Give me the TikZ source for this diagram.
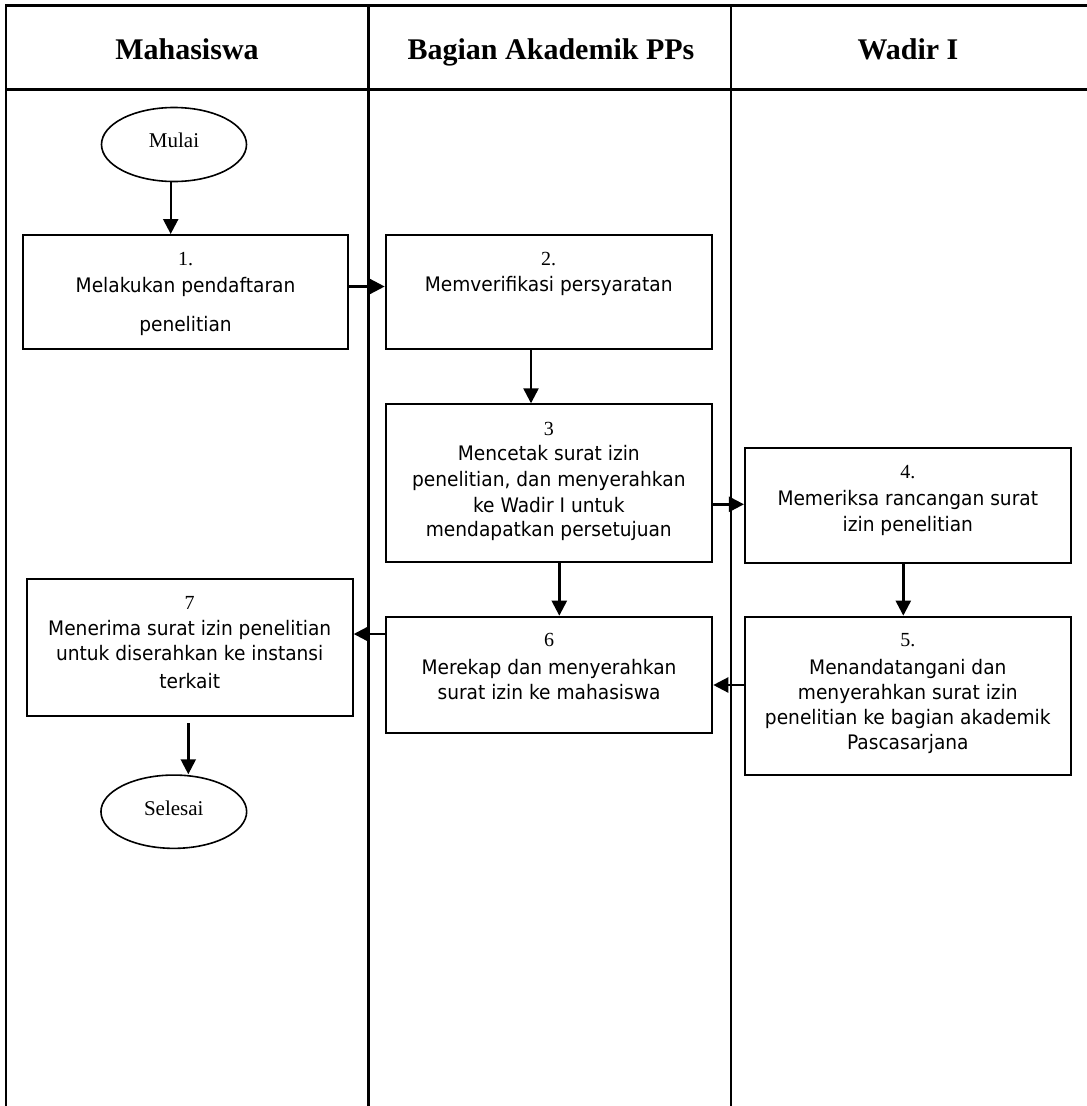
\documentclass[tikz,border=0pt]{standalone}
\usepackage{fontspec}
\setmainfont{Liberation Serif}
\newfontfamily\bodyfont[FakeStretch=0.93]{DejaVu Sans}
\usetikzlibrary{arrows.meta,shapes.geometric}
\begin{document}
\begin{tikzpicture}[x=1pt,y=-1pt,
  lane/.style={line width=2.5pt},
  box/.style={draw,line width=2pt,rectangle,inner sep=0pt},
  term/.style={draw,line width=1.6pt,ellipse,inner sep=0pt},
  flow/.style={line width=2.4pt,-{Triangle[length=15pt,width=15pt]}},
  lbl/.style={anchor=base,inner sep=0pt,font=\bodyfont\fontsize{20}{24}\selectfont},
  num/.style={anchor=base,inner sep=0pt,font=\fontsize{20}{23}\selectfont},
  head/.style={anchor=base,inner sep=0pt,font=\bfseries\fontsize{30}{34}\selectfont}]

\useasboundingbox (0,0) rectangle (1087,1106);

% swimlane frame
\draw[lane] (6,1112) -- (6,5.5) -- (1100,5.5);
\draw[lane] (6,89.5) -- (1100,89.5);
\draw[lane] (368.5,5.5) -- (368.5,1112);
\draw[lane] (731,5.5) -- (731,1112);

% lane headings
\node[head] (h1) at (187,59) {Mahasiswa};
\node[head] (h2) at (551,59) {Bagian Akademik PPs};
\node[head] (h3) at (908,59) {Wadir I};

% terminals
\node[term,minimum width=145pt,minimum height=74pt] (mulai) at (174,144.5) {};
\node[num,font=\fontsize{21}{24}\selectfont] (tm) at (174,147.5) {Mulai};
\node[term,minimum width=145.7pt,minimum height=73.3pt] (selesai) at (173.8,811.7) {};
\node[num,font=\fontsize{21}{24}\selectfont] (ts) at (173.8,815) {Selesai};

% process boxes
\node[box,minimum width=325.6pt,minimum height=114pt] (b1) at (185.5,292) {};
\node[box,minimum width=326pt,minimum height=114pt] (b2) at (548.7,292) {};
\node[box,minimum width=326.3pt,minimum height=158pt] (b3) at (548.8,483.3) {};
\node[box,minimum width=325.7pt,minimum height=114.4pt] (b4) at (907.8,505.5) {};
\node[box,minimum width=325.7pt,minimum height=158.3pt] (b5) at (907.8,695.8) {};
\node[box,minimum width=326.6pt,minimum height=116.6pt] (b6) at (549,675) {};
\node[box,minimum width=326pt,minimum height=136.7pt] (b7) at (189.7,647.3) {};

% box texts
\node[num] (n1) at (185.5,265) {1.};
\node[lbl] (t1a) at (185.5,292.7) {Melakukan pendaftaran};
\node[lbl] (t1b) at (185.5,331.7) {penelitian};

\node[num] (n2) at (548.7,265) {2.};
\node[lbl] (t2a) at (548.7,291.7) {Memverifikasi persyaratan};

\node[num] (n3) at (548.8,435) {3};
\node[lbl] (t3a) at (548.8,460.7) {Mencetak surat izin};
\node[lbl] (t3b) at (548.8,486.7) {penelitian, dan menyerahkan};
\node[lbl] (t3c) at (548.8,512.3) {ke Wadir I untuk};
\node[lbl] (t3d) at (548.8,536.7) {mendapatkan persetujuan};

\node[num] (n4) at (907.8,478.3) {4.};
\node[lbl] (t4a) at (907.8,505.7) {Memeriksa rancangan surat};
\node[lbl] (t4b) at (907.8,531) {izin penelitian};

\node[num] (n5) at (907.8,646.7) {5.};
\node[lbl] (t5a) at (907.8,674.3) {Menandatangani dan};
\node[lbl] (t5b) at (907.8,699.3) {menyerahkan surat izin};
\node[lbl] (t5c) at (907.8,724.3) {penelitian ke bagian akademik};
\node[lbl] (t5d) at (907.8,749.3) {Pascasarjana};

\node[num] (n6) at (549,646.7) {6};
\node[lbl] (t6a) at (549,674) {Merekap dan menyerahkan};
\node[lbl] (t6b) at (549,699) {surat izin ke mahasiswa};

\node[num] (n7) at (189.7,609.3) {7};
\node[lbl] (t7a) at (189.7,635) {Menerima surat izin penelitian};
\node[lbl] (t7b) at (189.7,660.7) {untuk diserahkan ke instansi};
\node[lbl] (t7c) at (189.7,688.3) {terkait};

% connector tracks
\coordinate (xa) at (170.7,0);
\coordinate (ya) at (0,286.5);
\coordinate (xb) at (531,0);
\coordinate (yc) at (0,504.3);
\coordinate (xd) at (903.3,0);
\coordinate (xe) at (559.3,0);
\coordinate (yf) at (0,685);
\coordinate (yg) at (0,634);
\coordinate (xh) at (188.3,0);

% connectors
\draw[flow] (mulai.south -| xa) -- (b1.north -| xa);
\draw[flow] (b1.east |- ya) -- (b2.west |- ya);
\draw[flow] (b2.south -| xb) -- (b3.north -| xb);
\draw[flow] (b3.east |- yc) -- (b4.west |- yc);
\draw[flow] (b4.south -| xd) -- (b5.north -| xd);
\draw[flow] (b3.south -| xe) -- (b6.north -| xe);
\draw[flow] (b5.west |- yf) -- (b6.east |- yf);
\draw[flow] (b6.west |- yg) -- (b7.east |- yg);
\draw[flow,shorten <=6.6pt] (b7.south -| xh) -- (selesai.north -| xh);
\end{tikzpicture}
\end{document}
